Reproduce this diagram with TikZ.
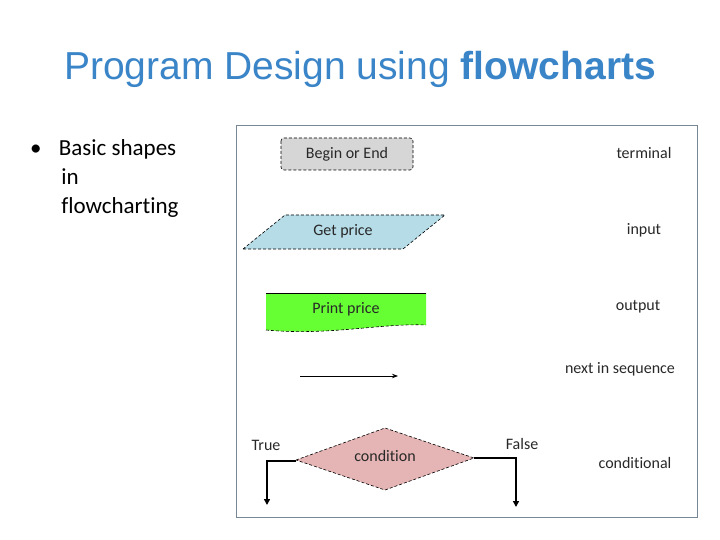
\documentclass[tikz,border=0pt]{standalone}
\usepackage{fontspec}
\setmainfont[Ligatures=CommonOff]{Carlito}
\newfontfamily\arialf{Liberation Sans}
\usetikzlibrary{arrows.meta}
\definecolor{ttl}{RGB}{58,132,200}
\definecolor{frm}{RGB}{120,135,150}
\definecolor{lbl}{RGB}{40,40,40}
\definecolor{inblue}{RGB}{182,220,232}
\definecolor{outgreen}{RGB}{102,255,51}
\definecolor{condpink}{RGB}{229,180,180}
\definecolor{termgray}{RGB}{214,214,214}
\tikzset{lab/.style={font=\fontsize{16}{18}\selectfont,text=lbl,inner sep=0pt},
 shp/.style={draw=black,densely dashed,line width=0.6pt},
 thick1/.style={line width=2pt,-{Triangle[length=6pt,width=6pt]}}}
\begin{document}
\begin{tikzpicture}[x=1pt,y=-1pt]
\useasboundingbox (0,0) rectangle (720,540);
\node[font=\arialf\fontsize{39}{44}\selectfont,text=ttl] (title) at (360,69) {Program Design using \textbf{flowcharts}};
\node[font=\fontsize{23}{29}\selectfont,anchor=north west,align=left,inner sep=0pt] (bul) at (30,139) {•\hspace{0.75em}Basic shapes\\\hspace{1.35em}in\\\hspace{1.35em}flowcharting};
\draw[frm,line width=1pt] (236,126) rectangle (697,517);
\draw[shp,fill=termgray,rounded corners=3pt] (281,138) rectangle (413,170);
\node[lab] (t1) at (347,154) {Begin or End};
\draw[shp,fill=inblue] (243,249) -- (285,215) -- (445,215) -- (403,249) -- cycle;
\node[lab] (t2) at (343,231) {Get price};
\fill[outgreen] (266,293) -- (426,293) -- (426,325) .. controls (380,323) and (330,336) .. (266,330) -- cycle;
\draw[line width=0.6pt] (266,293) -- (426,293);
\draw[shp] (266,330) .. controls (330,336) and (380,323) .. (426,325);
\node[lab] (t3) at (346,309) {Print price};
\coordinate (a1) at (300,376); \coordinate (a2) at (398,376);
\draw[line width=0.8pt,-{Stealth[length=6pt]}] (a1) -- (a2);
\draw[shp,fill=condpink] (296,460) -- (385,428) -- (474,458) -- (385,490) -- cycle;
\node[lab] (t4) at (385,456) {condition};
\coordinate (dl) at (296,461); \coordinate (dr) at (474,458);
\coordinate (el) at (267,505); \coordinate (er) at (516,507);
\draw[thick1] (dl) -- (267,461) -- (el);
\draw[thick1] (dr) -- (516,458) -- (er);
\node[lab] (tr) at (266,445) {True};
\node[lab] (fa) at (522,444) {False};
\node[lab] (r1) at (644,153) {terminal};
\node[lab] (r2) at (644,230) {input};
\node[lab] (r3) at (638,307) {output};
\node[lab] (r4) at (620,369) {next in sequence};
\node[lab] (r5) at (635,463) {conditional};
\end{tikzpicture}
\end{document}
